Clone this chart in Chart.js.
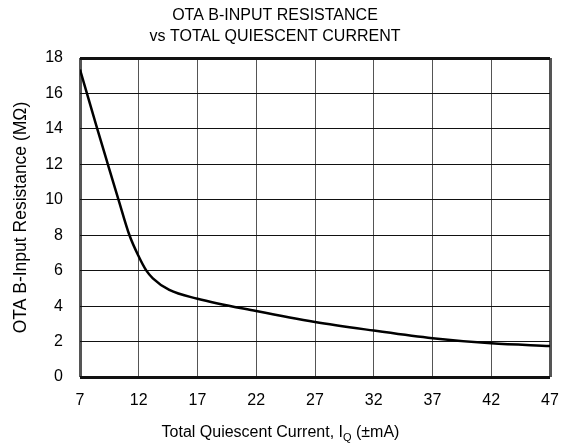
<!DOCTYPE html>
<html>
<head>
<meta charset="utf-8">
<script src="https://cdn.jsdelivr.net/npm/chart.js@4"></script>
<style>
  html, body { margin: 0; padding: 0; background: #fff; }
  #wrap { width: 576px; height: 447px; }
</style>
</head>
<body>
<div id="wrap"><canvas id="myChart" width="576" height="447"></canvas></div>
<script>
const currentMA = [7, 8.47, 9.37, 10.28, 11.21, 12, 12.65, 13.2, 14.6, 17, 22, 27, 32, 37, 42, 47];
const resistanceMOhm = [17.35, 14, 12, 10, 8, 6.8, 6.0, 5.57, 4.91, 4.42, 3.72, 3.1, 2.62, 2.19, 1.9, 1.75];
const xTicks = [7, 12, 17, 22, 27, 32, 37, 42, 47];
const yTicks = [0, 2, 4, 6, 8, 10, 12, 14, 16, 18];

const FONT = "'Liberation Sans', Arial, sans-serif";
const ctx = document.getElementById('myChart');

// x title has a subscript, so draw it by hand
const xTitlePlugin = {
  id: 'xTitle',
  afterDraw(chart) {
    const c = chart.ctx;
    const parts = ['Total Quiescent Current, I', 'Q', ' (\u00b1mA)'];
    c.save();
    c.fillStyle = '#000';
    c.textBaseline = 'alphabetic';
    c.font = '16px ' + FONT;
    const w0 = c.measureText(parts[0]).width;
    const w2 = c.measureText(parts[2]).width;
    c.font = '11px ' + FONT;
    const w1 = c.measureText(parts[1]).width;
    let x = 280.5 - (w0 + w1 + w2) / 2;
    const y = 437;
    c.textAlign = 'left';
    c.font = '16px ' + FONT;
    c.fillText(parts[0], x, y);
    x += w0;
    c.font = '11px ' + FONT;
    c.fillText(parts[1], x, y + 4);
    x += w1;
    c.font = '16px ' + FONT;
    c.fillText(parts[2], x, y);
    c.restore();
  }
};

const edgeWidth = (n) => (context) => (context.index === 0 || context.index === n - 1) ? 3 : 1;

const data = {
  datasets: [{
    data: currentMA.map((x, i) => ({ x, y: resistanceMOhm[i] })),
    borderColor: '#000',
    borderWidth: 2.5,
    pointRadius: 0,
    showLine: true,
    fill: false,
    cubicInterpolationMode: 'monotone',
  }]
};

const options = {
  responsive: false,
  animation: false,
  layout: { padding: { left: 0, right: 26, top: 0, bottom: 0 } },
  plugins: {
    legend: { display: false },
    tooltip: { enabled: false },
    title: {
      display: true,
      text: ['OTA B-INPUT RESISTANCE', 'vs TOTAL QUIESCENT CURRENT'],
      color: '#000',
      font: { family: FONT, size: 16, weight: 'normal', lineHeight: 1.3 },
      padding: { top: 5, bottom: 11.4 },
    },
  },
  scales: {
    x: {
      type: 'linear',
      min: 7,
      max: 47,
      afterBuildTicks: (scale) => { scale.ticks = xTicks.map(v => ({ value: v })); },
      afterFit: (scale) => { scale.height = 70; },
      grid: { color: '#555', lineWidth: edgeWidth(xTicks.length), drawTicks: false },
      border: { display: false },
      ticks: { color: '#000', font: { family: FONT, size: 16 }, padding: 14, maxRotation: 0 },
    },
    y: {
      type: 'linear',
      min: 0,
      max: 18,
      afterBuildTicks: (scale) => { scale.ticks = yTicks.map(v => ({ value: v })); },
      afterFit: (scale) => { scale.width = 80; },
      grid: { color: '#111', lineWidth: edgeWidth(yTicks.length), drawTicks: false },
      border: { display: false },
      ticks: { color: '#000', font: { family: FONT, size: 16 }, padding: 17 },
      title: {
        display: true,
        text: 'OTA B-Input Resistance (M\u03a9)',
        color: '#000',
        font: { family: FONT, size: 17.5 },
        padding: { top: 11, bottom: 0 },
      },
    },
  },
};

const chart = new Chart(ctx, {
  type: 'scatter',
  data,
  options,
  plugins: [xTitlePlugin],
});
</script>
</body>
</html>
